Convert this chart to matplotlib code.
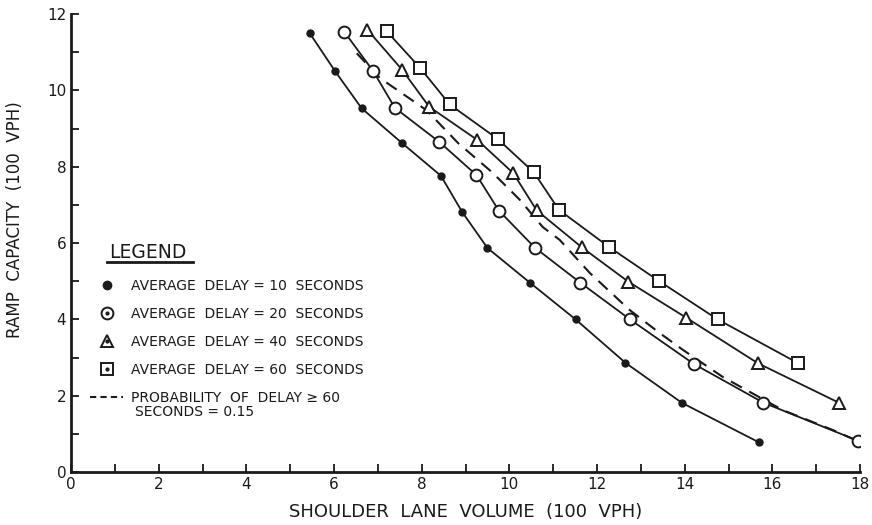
import matplotlib.pyplot as plt
from matplotlib.lines import Line2D

plt.rcParams['font.family'] = ['DejaVu Sans']

# values (x = shoulder lane volume, y = ramp capacity, both in 100 vph)
d10_x = [5.45, 6.02, 6.63, 7.54, 8.44, 8.92, 9.50, 10.47, 11.51, 12.65, 13.94, 15.69]
d10_y = [11.49, 10.51, 9.53, 8.63, 7.76, 6.82, 5.87, 4.96, 4.00, 2.86, 1.81, 0.78]
d20_x = [6.23, 6.89, 7.39, 8.40, 9.25, 9.76, 10.58, 11.62, 12.75, 14.21, 15.79, 17.95]
d20_y = [11.54, 10.51, 9.54, 8.65, 7.78, 6.85, 5.88, 4.96, 4.00, 2.83, 1.82, 0.82]
d40_x = [6.76, 7.56, 8.17, 9.27, 10.09, 10.62, 11.65, 12.71, 14.04, 15.67, 17.51]
d40_y = [11.59, 10.53, 9.57, 8.70, 7.83, 6.86, 5.89, 4.99, 4.04, 2.85, 1.82]
d60_x = [7.20, 7.97, 8.64, 9.74, 10.56, 11.13, 12.28, 13.42, 14.75, 16.59]
d60_y = [11.55, 10.58, 9.63, 8.72, 7.85, 6.87, 5.89, 5.00, 4.00, 2.85]
prob_x = [6.52, 7.05, 8.11, 8.83, 9.62, 10.24, 10.76, 11.15, 11.84, 12.75,
          13.43, 13.96, 14.87, 16.24, 17.38, 17.95]
prob_y = [10.97, 10.32, 9.48, 8.62, 7.84, 7.13, 6.42, 6.08, 5.21, 4.24,
          3.64, 3.20, 2.49, 1.62, 1.10, 0.81]

labels = ["AVERAGE  DELAY = 10  SECONDS",
          "AVERAGE  DELAY = 20  SECONDS",
          "AVERAGE  DELAY = 40  SECONDS",
          "AVERAGE  DELAY = 60  SECONDS",
          "PROBABILITY  OF  DELAY \u2265 60"]
label_cont = "SECONDS = 0.15"

ink = "#1a1a1a"

fig = plt.figure(figsize=(8.72, 5.25), dpi=100)
ax = fig.add_axes([71 / 872, 53 / 525, 789 / 872, 458 / 525])

ax.plot(d10_x, d10_y, color=ink, lw=1.3, marker="o", ms=5, mfc=ink, mec=ink)
ax.plot(d20_x, d20_y, color=ink, lw=1.3, marker="o", ms=8.5, mfc="white", mec=ink, mew=1.4)
ax.plot(d40_x, d40_y, color=ink, lw=1.3, marker="^", ms=8.5, mfc="white", mec=ink, mew=1.4)
ax.plot(d60_x, d60_y, color=ink, lw=1.3, marker="s", ms=8, mfc="white", mec=ink, mew=1.4)
ax.plot(prob_x, prob_y, color=ink, lw=1.5, ls=(0, (6, 4)), zorder=1)

ax.set_xlim(0, 18)
ax.set_ylim(0, 12)
ax.set_xticks(range(0, 19, 2))
ax.set_xticks(range(1, 19, 2), minor=True)
ax.set_yticks(range(0, 13, 2))
ax.set_yticks(range(1, 13, 2), minor=True)
ax.tick_params(which="both", direction="in", length=6, width=1.3, color=ink,
               labelsize=11, labelcolor=ink)
for s in ["top", "right"]:
    ax.spines[s].set_visible(False)
for s in ["left", "bottom"]:
    ax.spines[s].set_linewidth(2)
    ax.spines[s].set_color(ink)

ax.set_xlabel("SHOULDER  LANE  VOLUME  (100  VPH)", fontsize=13, color=ink)
ax.xaxis.set_label_coords(0.5, -0.068)
ax.set_ylabel("RAMP  CAPACITY  (100  VPH)", fontsize=12, color=ink)
ax.yaxis.set_label_coords(-0.06, 0.55)

# legend
fig.text(109 / 872, 1 - 252 / 525, "LEGEND", fontsize=13.5, color=ink, va="center")
fig.add_artist(Line2D([107 / 872, 193 / 872], [1 - 262 / 525, 1 - 262 / 525],
                      color=ink, lw=2))

dot = Line2D([], [], ls="", marker="o", ms=2, color=ink)
handles = [
    Line2D([], [], ls="", marker="o", ms=6, color=ink),
    (Line2D([], [], ls="", marker="o", ms=8.5, mfc="white", mec=ink, mew=1.4), dot),
    (Line2D([], [], ls="", marker="^", ms=8.5, mfc="white", mec=ink, mew=1.4), dot),
    (Line2D([], [], ls="", marker="s", ms=8, mfc="white", mec=ink, mew=1.4), dot),
    Line2D([], [], color=ink, lw=1.5, ls=(0, (3, 2))),
]
fig.legend(handles, labels, loc="upper left",
           bbox_to_anchor=(90 / 872, 1 - 279 / 525), frameon=False,
           fontsize=10, handlelength=2.4, handletextpad=0.55,
           labelspacing=1.0, borderpad=0, borderaxespad=0, labelcolor=ink)
fig.text(135 / 872, 1 - 412 / 525, label_cont, fontsize=10, color=ink, va="center")

fig.savefig("out.png", dpi=100)
